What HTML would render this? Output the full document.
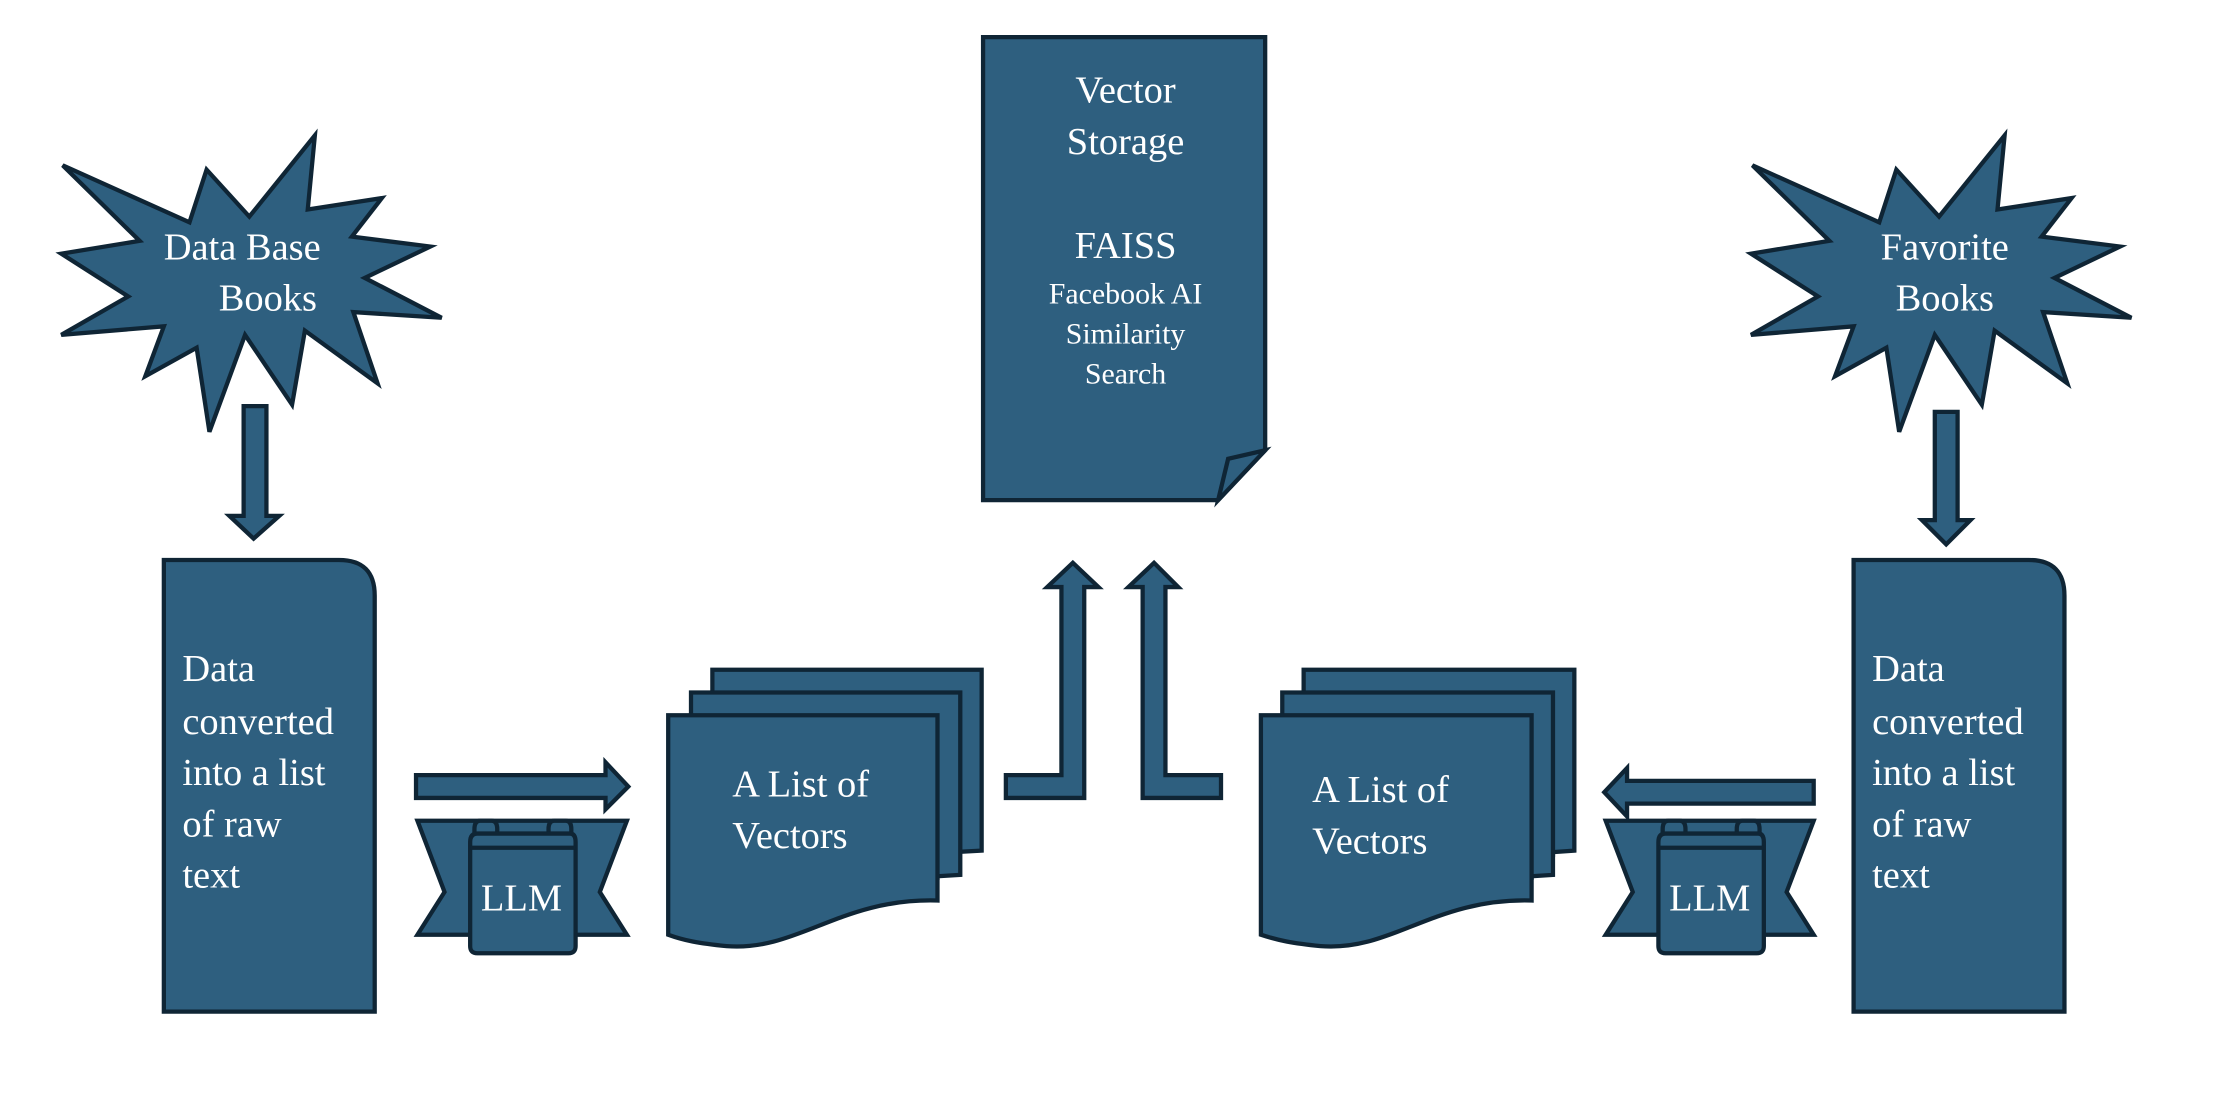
<!DOCTYPE html>
<html><head><meta charset="utf-8"><style>
html,body{margin:0;padding:0;background:#fff;}
svg{display:block;}
text{font-family:"Liberation Serif",serif;fill:#fff;}
</style></head><body>
<svg width="2234" height="1120" viewBox="0 0 1568 786" xmlns="http://www.w3.org/2000/svg">
<defs>
<polygon id="star" points="44,116 133,156 145,119 175,152 221,95 216,147 268,139 247,166 302,173 256,195 310,223 248,219 265,269 214,232 205,284 172,235 147,303 138,244 102,264 115,229 43,235 90,208 43,178 98,169"/>
</defs>
<g fill="#2e5f7f" stroke="#0f2535" stroke-width="3" stroke-linejoin="miter">
<use href="#star"/>
<use href="#star" transform="translate(1186,0)"/>
<polygon points="171,285 187,285 187,362 196,362 178,378 161,362 171,362"/>
<polygon points="1358,289 1374,289 1374,365 1383,365 1366,382 1349,365 1358,365"/>
<path d="M115,393 H238 Q263,393 263,418 V710 H115 Z"/>
<path d="M1301,393 H1424 Q1449,393 1449,418 V710 H1301 Z"/>
<polygon points="292,544 425,544 425,535 441,552 425,568 425,560 292,560"/>
<polygon points="1273,548 1142,548 1142,539 1126,556 1142,573 1142,564 1273,564"/>
<polygon points="293,576 440,576 421,626 440,656 293,656 312,626"/>
<polygon points="1127,576 1273,576 1254,626 1273,656 1127,656 1146,626"/>
<g id="scr">
<path d="M337,576 H345 Q349,576 349,582 V592 H333 V582 Q333,576 337,576Z"/>
<path d="M389,576 H397 Q401,576 401,582 V592 H385 V582 Q385,576 389,576Z"/>
<path d="M335,585 H400 Q404,585 404,591 V664 Q404,669 399,669 H335 Q330,669 330,664 V591 Q330,585 335,585Z"/>
<line x1="330" y1="595" x2="404" y2="595"/>
</g>
<use href="#scr" transform="translate(834,0)"/>
<path d="M500,470 H689 V597 L670,598 V600 H500 Z"/>
<path d="M485,486 H674 V614 L658,615 V616 H485 Z"/>
<path d="M469,502 H658 V632 C590,630 560,668 510,664 C490,662 480,660 469,656 Z"/>
<path d="M915,470 H1105 V597 L1090,598 V600 H915 Z"/>
<path d="M900,486 H1090 V614 L1075,615 V616 H900 Z"/>
<path d="M885,502 H1075 V632 C1007,630 977,668 927,664 C907,662 897,660 885,656 Z"/>
<polygon points="706,544 745,544 745,412 735,412 753,395 771,412 761,412 761,560 706,560"/>
<polygon points="857,544 818,544 818,412 827,412 810,395 792,412 802,412 802,560 857,560"/>
<polygon points="690,26 888,26 888,316 855,351 690,351"/>
<polygon points="855,351 862,322 888,316"/>
</g>
<g font-size="27">
<text x="170" y="182" text-anchor="middle">Data Base</text>
<text x="188" y="218" text-anchor="middle">Books</text>
<text x="1365" y="182" text-anchor="middle">Favorite</text>
<text x="1365" y="218" text-anchor="middle">Books</text>
<text x="128" y="478">Data</text>
<text x="128" y="515">converted</text>
<text x="128" y="551">into a list</text>
<text x="128" y="587">of raw</text>
<text x="128" y="623">text</text>
<text x="1314" y="478">Data</text>
<text x="1314" y="515">converted</text>
<text x="1314" y="551">into a list</text>
<text x="1314" y="587">of raw</text>
<text x="1314" y="623">text</text>
<text x="366" y="639" text-anchor="middle">LLM</text>
<text x="1200" y="639" text-anchor="middle">LLM</text>
<text x="514" y="559">A List of</text>
<text x="514" y="595">Vectors</text>
<text x="921" y="563">A List of</text>
<text x="921" y="599">Vectors</text>
<text x="790" y="72" text-anchor="middle">Vector</text>
<text x="790" y="108" text-anchor="middle">Storage</text>
<text x="790" y="181" text-anchor="middle">FAISS</text>
</g>
<g font-size="21">
<text x="790" y="213" text-anchor="middle">Facebook AI</text>
<text x="790" y="241" text-anchor="middle">Similarity</text>
<text x="790" y="269" text-anchor="middle">Search</text>
</g>
</svg>
</body></html>
